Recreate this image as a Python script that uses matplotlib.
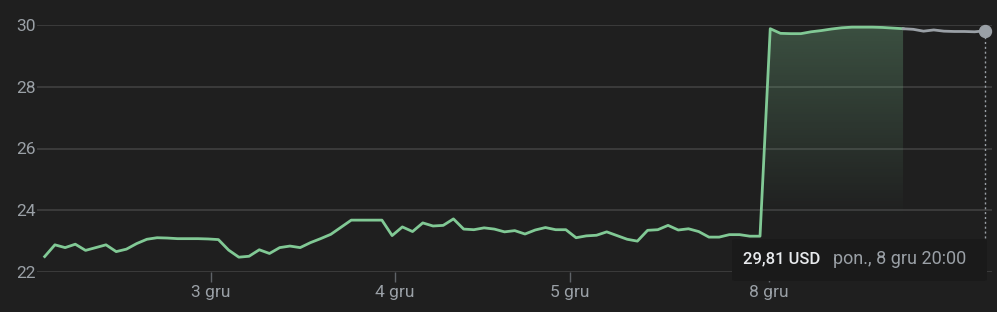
import numpy as np
import matplotlib.pyplot as plt
from matplotlib.patches import FancyBboxPatch, Polygon

# Data: price samples (USD), regular sample index
prices = [22.50, 22.88, 22.79, 22.90, 22.70, 22.79, 22.88, 22.66, 22.74, 22.92,
          23.06, 23.11, 23.10, 23.08, 23.08, 23.08, 23.07, 23.05, 22.71, 22.48,
          22.51, 22.72, 22.60, 22.79, 22.84, 22.79, 22.95, 23.08, 23.22, 23.45,
          23.68, 23.68, 23.68, 23.68, 23.18, 23.46, 23.31, 23.59, 23.49, 23.51,
          23.72, 23.39, 23.37, 23.43, 23.39, 23.30, 23.34, 23.23, 23.36, 23.44,
          23.37, 23.37, 23.11, 23.17, 23.19, 23.30, 23.18, 23.06, 23.00, 23.35,
          23.37, 23.51, 23.36, 23.40, 23.31, 23.13, 23.13, 23.21, 23.21, 23.16,
          23.16, 29.88, 29.73, 29.72, 29.72, 29.78, 29.82, 29.87, 29.91, 29.93,
          29.93, 29.93, 29.92, 29.90, 29.88, 29.86, 29.80, 29.84, 29.80, 29.79,
          29.79, 29.78, 29.81]
sel_start = 70   # highlighted range
sel_end = 84
x_ticks = [16.27, 34.27, 51.4, 70.9]
x_labels = ["3 gru", "4 gru", "5 gru", "8 gru"]
y_ticks = [22, 24, 26, 28, 30]
tip_value = "29,81 USD"
tip_date = "pon., 8 gru 20:00"

BG = "#1f1f1f"
GREEN = "#81c995"
GRAY = "#9aa0a6"
GRID = "#404040"

plt.rcParams["font.family"] = ["Roboto", "DejaVu Sans"]

W, H = 997, 312
fig = plt.figure(figsize=(W / 100, H / 100), dpi=100, facecolor=BG)
ax = fig.add_axes([37 / W, 40 / H, (992 - 37) / W, 247 / H])
ax.set_facecolor(BG)

x = np.arange(len(prices))
y = np.array(prices)

# grid
for v in y_ticks:
    ax.axhline(v, color=GRID, lw=1.2, zorder=0)

# gradient fill under the highlighted part
xs = x[sel_start:sel_end + 1]
ys = y[sel_start:sel_end + 1]
poly = Polygon(np.column_stack([np.r_[xs, xs[-1], xs[0]], np.r_[ys, 22, 22]]),
               closed=True, facecolor="none", edgecolor="none")
ax.add_patch(poly)
lev = np.linspace(22, 30, 256).reshape(-1, 1)
rgba = np.zeros((256, 1, 4))
rgba[..., :3] = np.array([0x81, 0xc9, 0x95]) / 255
rgba[..., 3] = np.clip((lev - 23.7) / (30 - 23.7), 0, 1) * 0.29
im = ax.imshow(rgba, extent=[xs[0], xs[-1], 22, 30], origin="lower",
               aspect="auto", zorder=1, interpolation="bilinear")
im.set_clip_path(poly)
ax.set_xlim(-0.75, 92.7)
ax.set_ylim(22, 30)

ax.plot(x[:sel_end + 1], y[:sel_end + 1], color=GREEN, lw=2, zorder=3,
        solid_joinstyle="round")
ax.plot(x[sel_end:], y[sel_end:], color=GRAY, lw=2, zorder=3,
        solid_joinstyle="round")

# hover marker
ax.plot([x[-1], x[-1]], [22, y[-1]], color=GRAY, lw=1, ls=(0, (1.5, 2)), zorder=2)
ax.plot(x[-1], y[-1], "o", color=GRAY, ms=8.6, zorder=4, clip_on=False)

for s in ax.spines.values():
    s.set_visible(False)
ax.set_yticks(y_ticks)
ax.set_yticklabels([str(v) for v in y_ticks])
ax.set_xticks(x_ticks)
ax.set_xticklabels(x_labels)
ax.tick_params(axis="y", length=0, pad=1, labelsize=12.5, labelcolor=GRAY)
ax.tick_params(axis="x", length=7.2, width=1, color="#5f6368", pad=2,
               labelsize=12.5, labelcolor=GRAY)

# tooltip
box = FancyBboxPatch((732 / W, (H - 281) / H), (987 - 732) / W, 42 / H,
                     boxstyle="round,pad=0,rounding_size=0.005",
                     transform=fig.transFigure, facecolor="#1a1a1a",
                     edgecolor="none", zorder=10)
fig.patches.append(box)
fig.text(743 / W, (H - 259) / H, tip_value, color="#e8eaed", fontsize=12,
         fontweight="medium", va="center", ha="left", zorder=11)
fig.text(833 / W, (H - 259) / H, tip_date, color=GRAY, fontsize=13,
         va="center", ha="left", zorder=11)

fig.savefig("out.png", dpi=100, facecolor=BG)
